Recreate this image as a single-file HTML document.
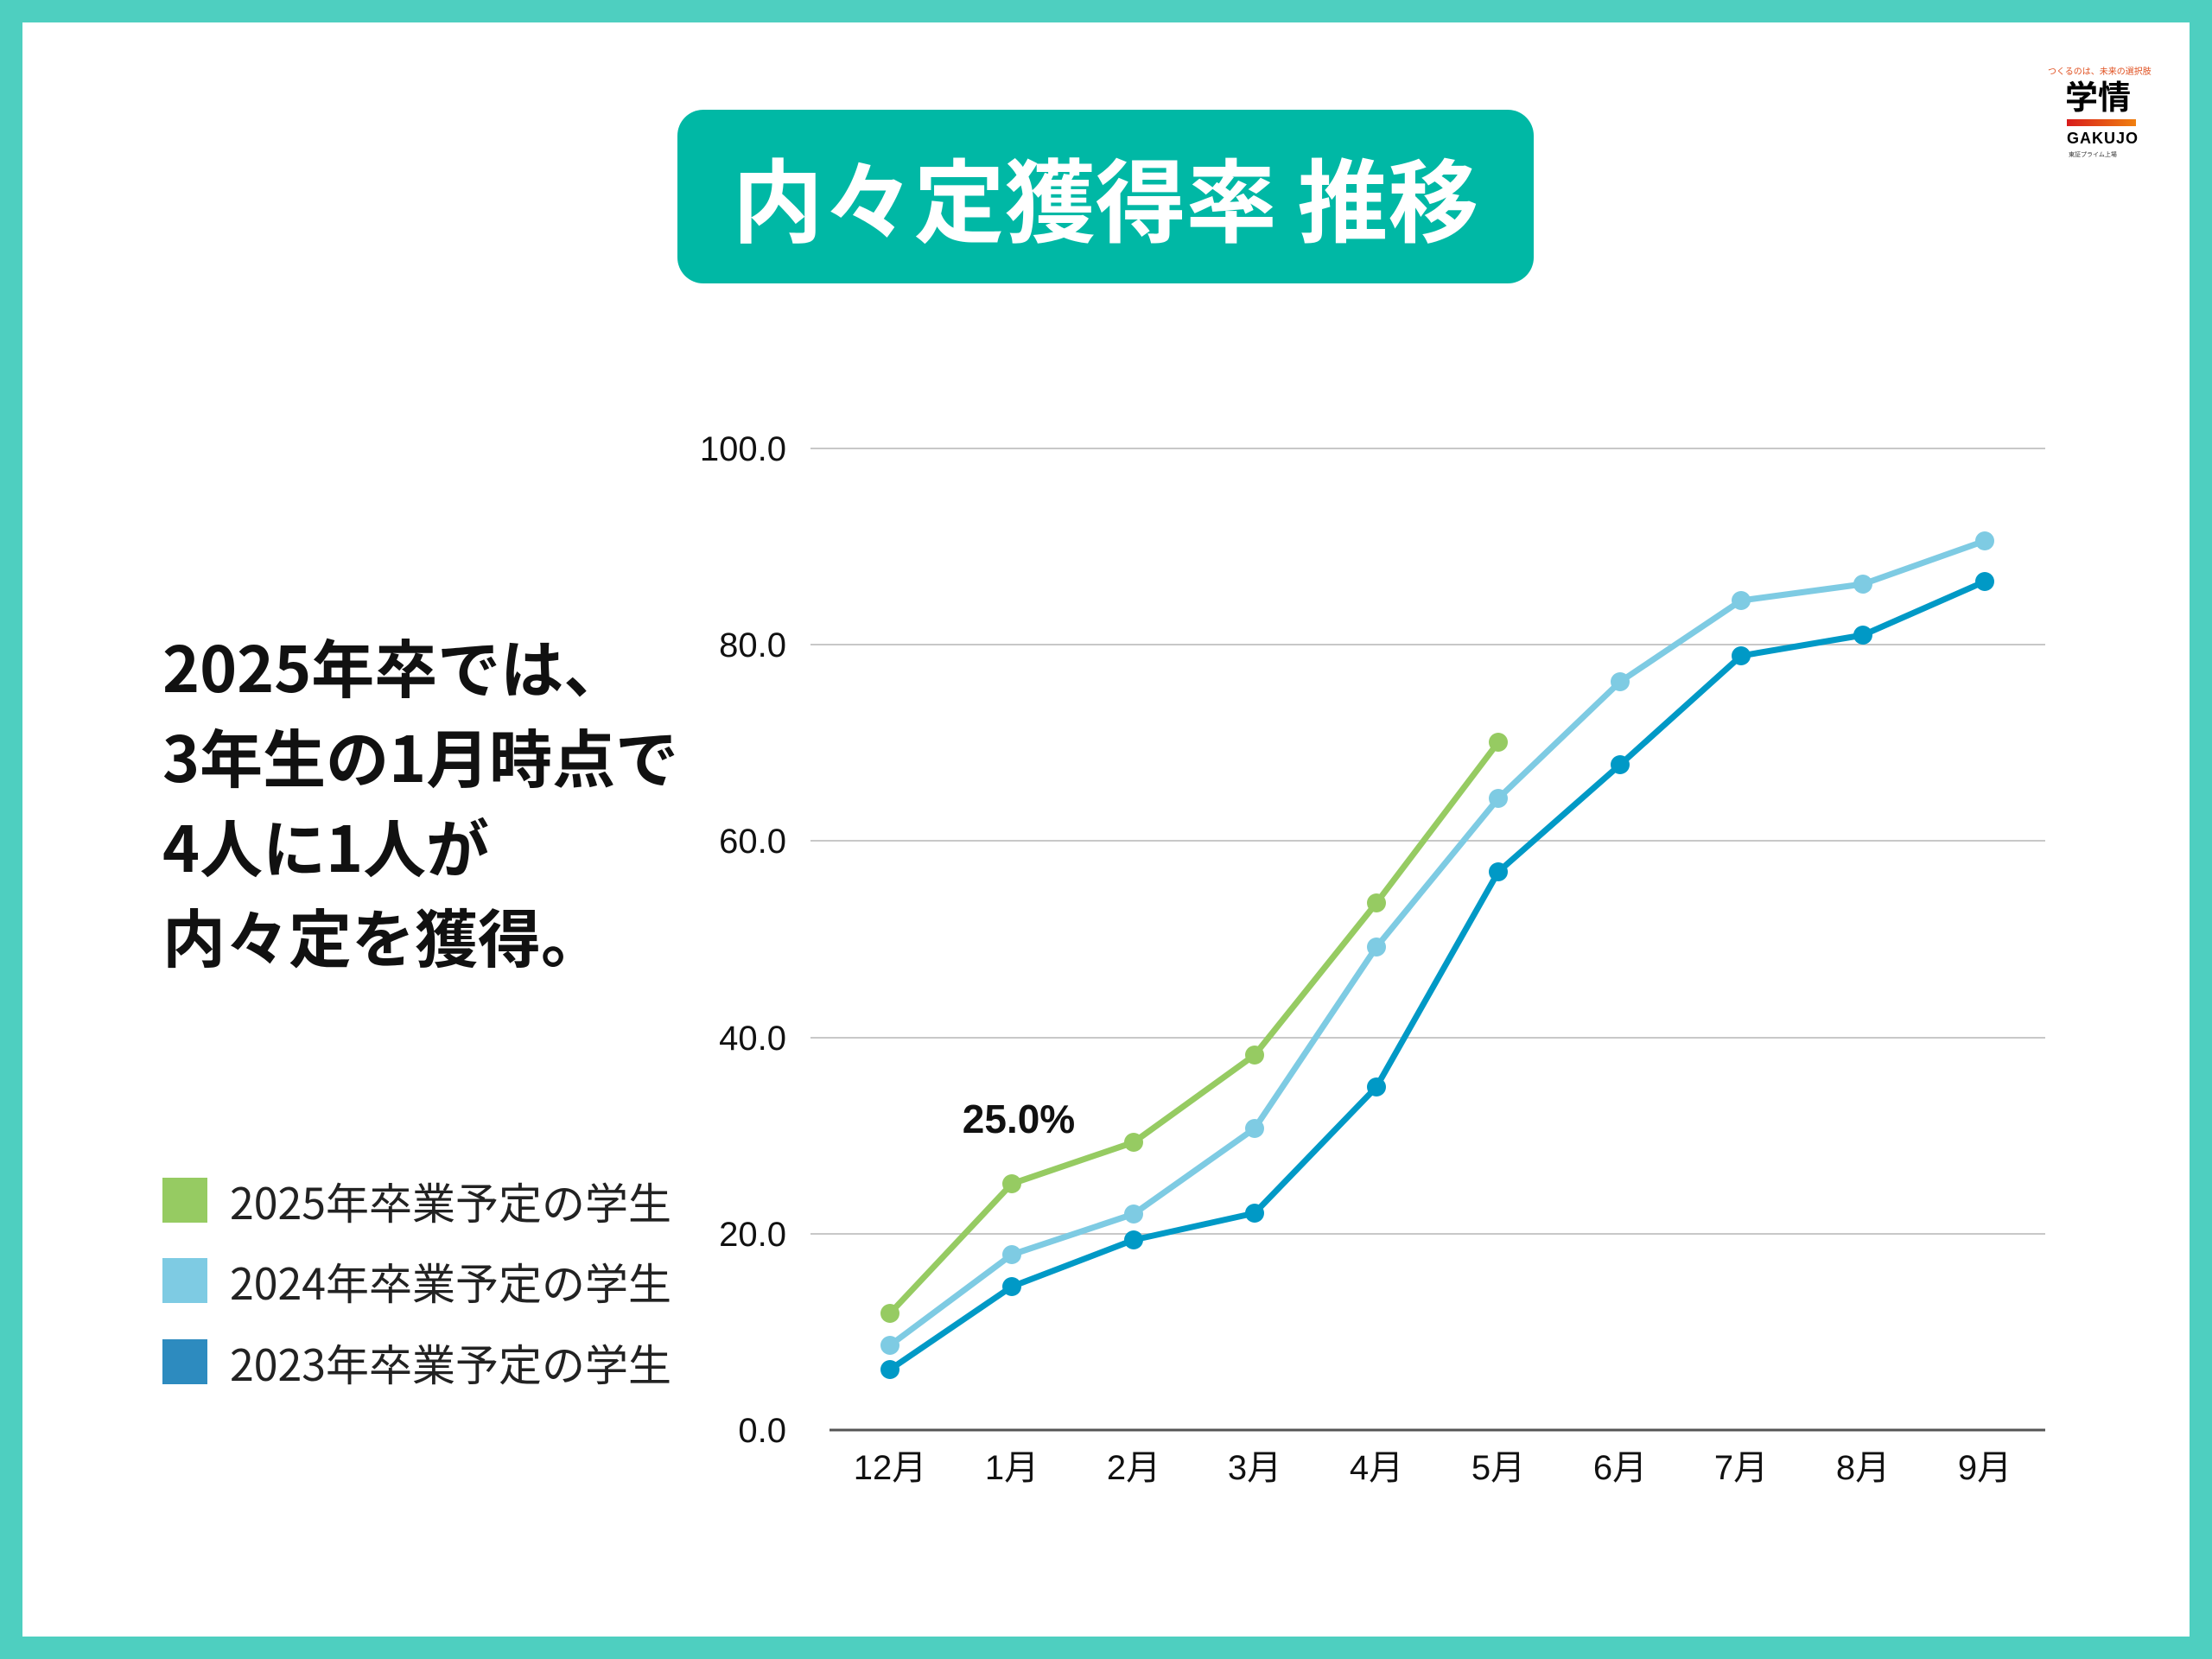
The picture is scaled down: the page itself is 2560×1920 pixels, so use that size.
<!DOCTYPE html>
<html><head><meta charset="utf-8"><style>
html,body{margin:0;padding:0}
body{width:2560px;height:1920px;background:#4ecfc0;position:relative;overflow:hidden;font-family:"Liberation Sans","Noto Sans CJK JP",sans-serif}
#page{position:absolute;left:26px;top:26px;width:2508px;height:1868px;background:#fff}
.t{position:absolute;white-space:nowrap}
</style></head><body>
<div id="page"></div>
<div style="position:absolute;left:784px;top:127px;width:991px;height:201px;background:#00b8a5;border-radius:30px"></div>
<div class="t" style="left:784px;width:991px;top:162px;text-align:center;color:#fff;font-weight:bold;font-size:105px;line-height:130px;font-family:'Noto Sans CJK JP',sans-serif">内々定獲得率 推移</div>

<!-- logo -->
<div class="t" style="left:2370px;top:74px;font-size:10px;color:#e05020;font-family:'Noto Sans CJK JP',sans-serif">つくるのは、未来の選択肢</div>
<div class="t" style="left:2390px;top:88px;font-size:38px;font-weight:bold;line-height:44px;font-family:'Noto Sans CJK JP',sans-serif">学情</div>
<div style="position:absolute;left:2392px;top:138px;width:80px;height:8px;background:linear-gradient(90deg,#d81c1c,#f08010)"></div>
<div class="t" style="left:2392px;top:150px;font-size:18px;font-weight:bold;letter-spacing:1px">GAKUJO</div>
<div class="t" style="left:2394px;top:174px;font-size:7px;color:#333;font-family:'Noto Sans CJK JP',sans-serif">東証プライム上場</div>

<div class="t" style="left:188px;top:718px;font-size:73px;font-weight:bold;line-height:104px;font-family:'Noto Sans CJK JP',sans-serif;color:#111">2025年卒では、<br>3年生の1月時点で<br>4人に1人が<br>内々定を獲得。</div>

<div style="position:absolute;left:188px;top:1363px;width:52px;height:52px;background:#96cb62"></div>
<div style="position:absolute;left:188px;top:1456px;width:52px;height:52px;background:#7ecbe3"></div>
<div style="position:absolute;left:188px;top:1550px;width:52px;height:52px;background:#2d8bbf"></div>
<div class="t" style="left:266px;top:1358px;font-size:50px;line-height:64px;font-family:'Noto Sans CJK JP',sans-serif;color:#222">2025年卒業予定の学生</div>
<div class="t" style="left:266px;top:1451px;font-size:50px;line-height:64px;font-family:'Noto Sans CJK JP',sans-serif;color:#222">2024年卒業予定の学生</div>
<div class="t" style="left:266px;top:1545px;font-size:50px;line-height:64px;font-family:'Noto Sans CJK JP',sans-serif;color:#222">2023年卒業予定の学生</div>

<svg style="position:absolute;left:0;top:0" width="2560" height="1920" font-family="Liberation Sans, Noto Sans CJK JP, sans-serif">
<g stroke="#c8c8c8" stroke-width="2">
<line x1="938" y1="519" x2="2367" y2="519"/><line x1="938" y1="746" x2="2367" y2="746"/>
<line x1="938" y1="973" x2="2367" y2="973"/><line x1="938" y1="1201" x2="2367" y2="1201"/>
<line x1="938" y1="1428" x2="2367" y2="1428"/>
</g>
<line x1="960" y1="1655" x2="2367" y2="1655" stroke="#555" stroke-width="3"/>
<g font-size="40" text-anchor="end" fill="#111">
<text x="910" y="533">100.0</text><text x="910" y="760">80.0</text><text x="910" y="987">60.0</text>
<text x="910" y="1215">40.0</text><text x="910" y="1442">20.0</text><text x="910" y="1669">0.0</text>
</g>
<g font-size="40" text-anchor="middle" fill="#111" font-family="Liberation Sans, Noto Sans CJK JP, sans-serif">
<text x="1030" y="1712">12月</text><text x="1171" y="1712">1月</text><text x="1312" y="1712">2月</text>
<text x="1452" y="1712">3月</text><text x="1593" y="1712">4月</text><text x="1734" y="1712">5月</text>
<text x="1875" y="1712">6月</text><text x="2015" y="1712">7月</text><text x="2156" y="1712">8月</text><text x="2297" y="1712">9月</text>
</g>
<g fill="none" stroke-width="7" stroke-linejoin="round">
<polyline stroke="#0099c6" points="1030,1585 1171,1489 1312,1435 1452,1404 1593,1258 1734,1009 1875,885 2015,759 2156,735 2297,673"/>
<polyline stroke="#7ecbe3" points="1030,1557 1171,1452 1312,1405 1452,1306 1593,1096 1734,924 1875,789 2015,695 2156,676 2297,626"/>
<polyline stroke="#96cb62" points="1030,1520 1171,1370 1312,1322 1452,1221 1593,1045 1734,859"/>
</g>
<g fill="#0099c6">
<circle cx="1030" cy="1585" r="11"/><circle cx="1171" cy="1489" r="11"/><circle cx="1312" cy="1435" r="11"/><circle cx="1452" cy="1404" r="11"/><circle cx="1593" cy="1258" r="11"/><circle cx="1734" cy="1009" r="11"/><circle cx="1875" cy="885" r="11"/><circle cx="2015" cy="759" r="11"/><circle cx="2156" cy="735" r="11"/><circle cx="2297" cy="673" r="11"/>
</g>
<g fill="#7ecbe3">
<circle cx="1030" cy="1557" r="11"/><circle cx="1171" cy="1452" r="11"/><circle cx="1312" cy="1405" r="11"/><circle cx="1452" cy="1306" r="11"/><circle cx="1593" cy="1096" r="11"/><circle cx="1734" cy="924" r="11"/><circle cx="1875" cy="789" r="11"/><circle cx="2015" cy="695" r="11"/><circle cx="2156" cy="676" r="11"/><circle cx="2297" cy="626" r="11"/>
</g>
<g fill="#96cb62">
<circle cx="1030" cy="1520" r="11"/><circle cx="1171" cy="1370" r="11"/><circle cx="1312" cy="1322" r="11"/><circle cx="1452" cy="1221" r="11"/><circle cx="1593" cy="1045" r="11"/><circle cx="1734" cy="859" r="11"/>
</g>
<text x="1179" y="1311" font-size="46" font-weight="bold" text-anchor="middle" fill="#111">25.0%</text>
</svg>
</body></html>
